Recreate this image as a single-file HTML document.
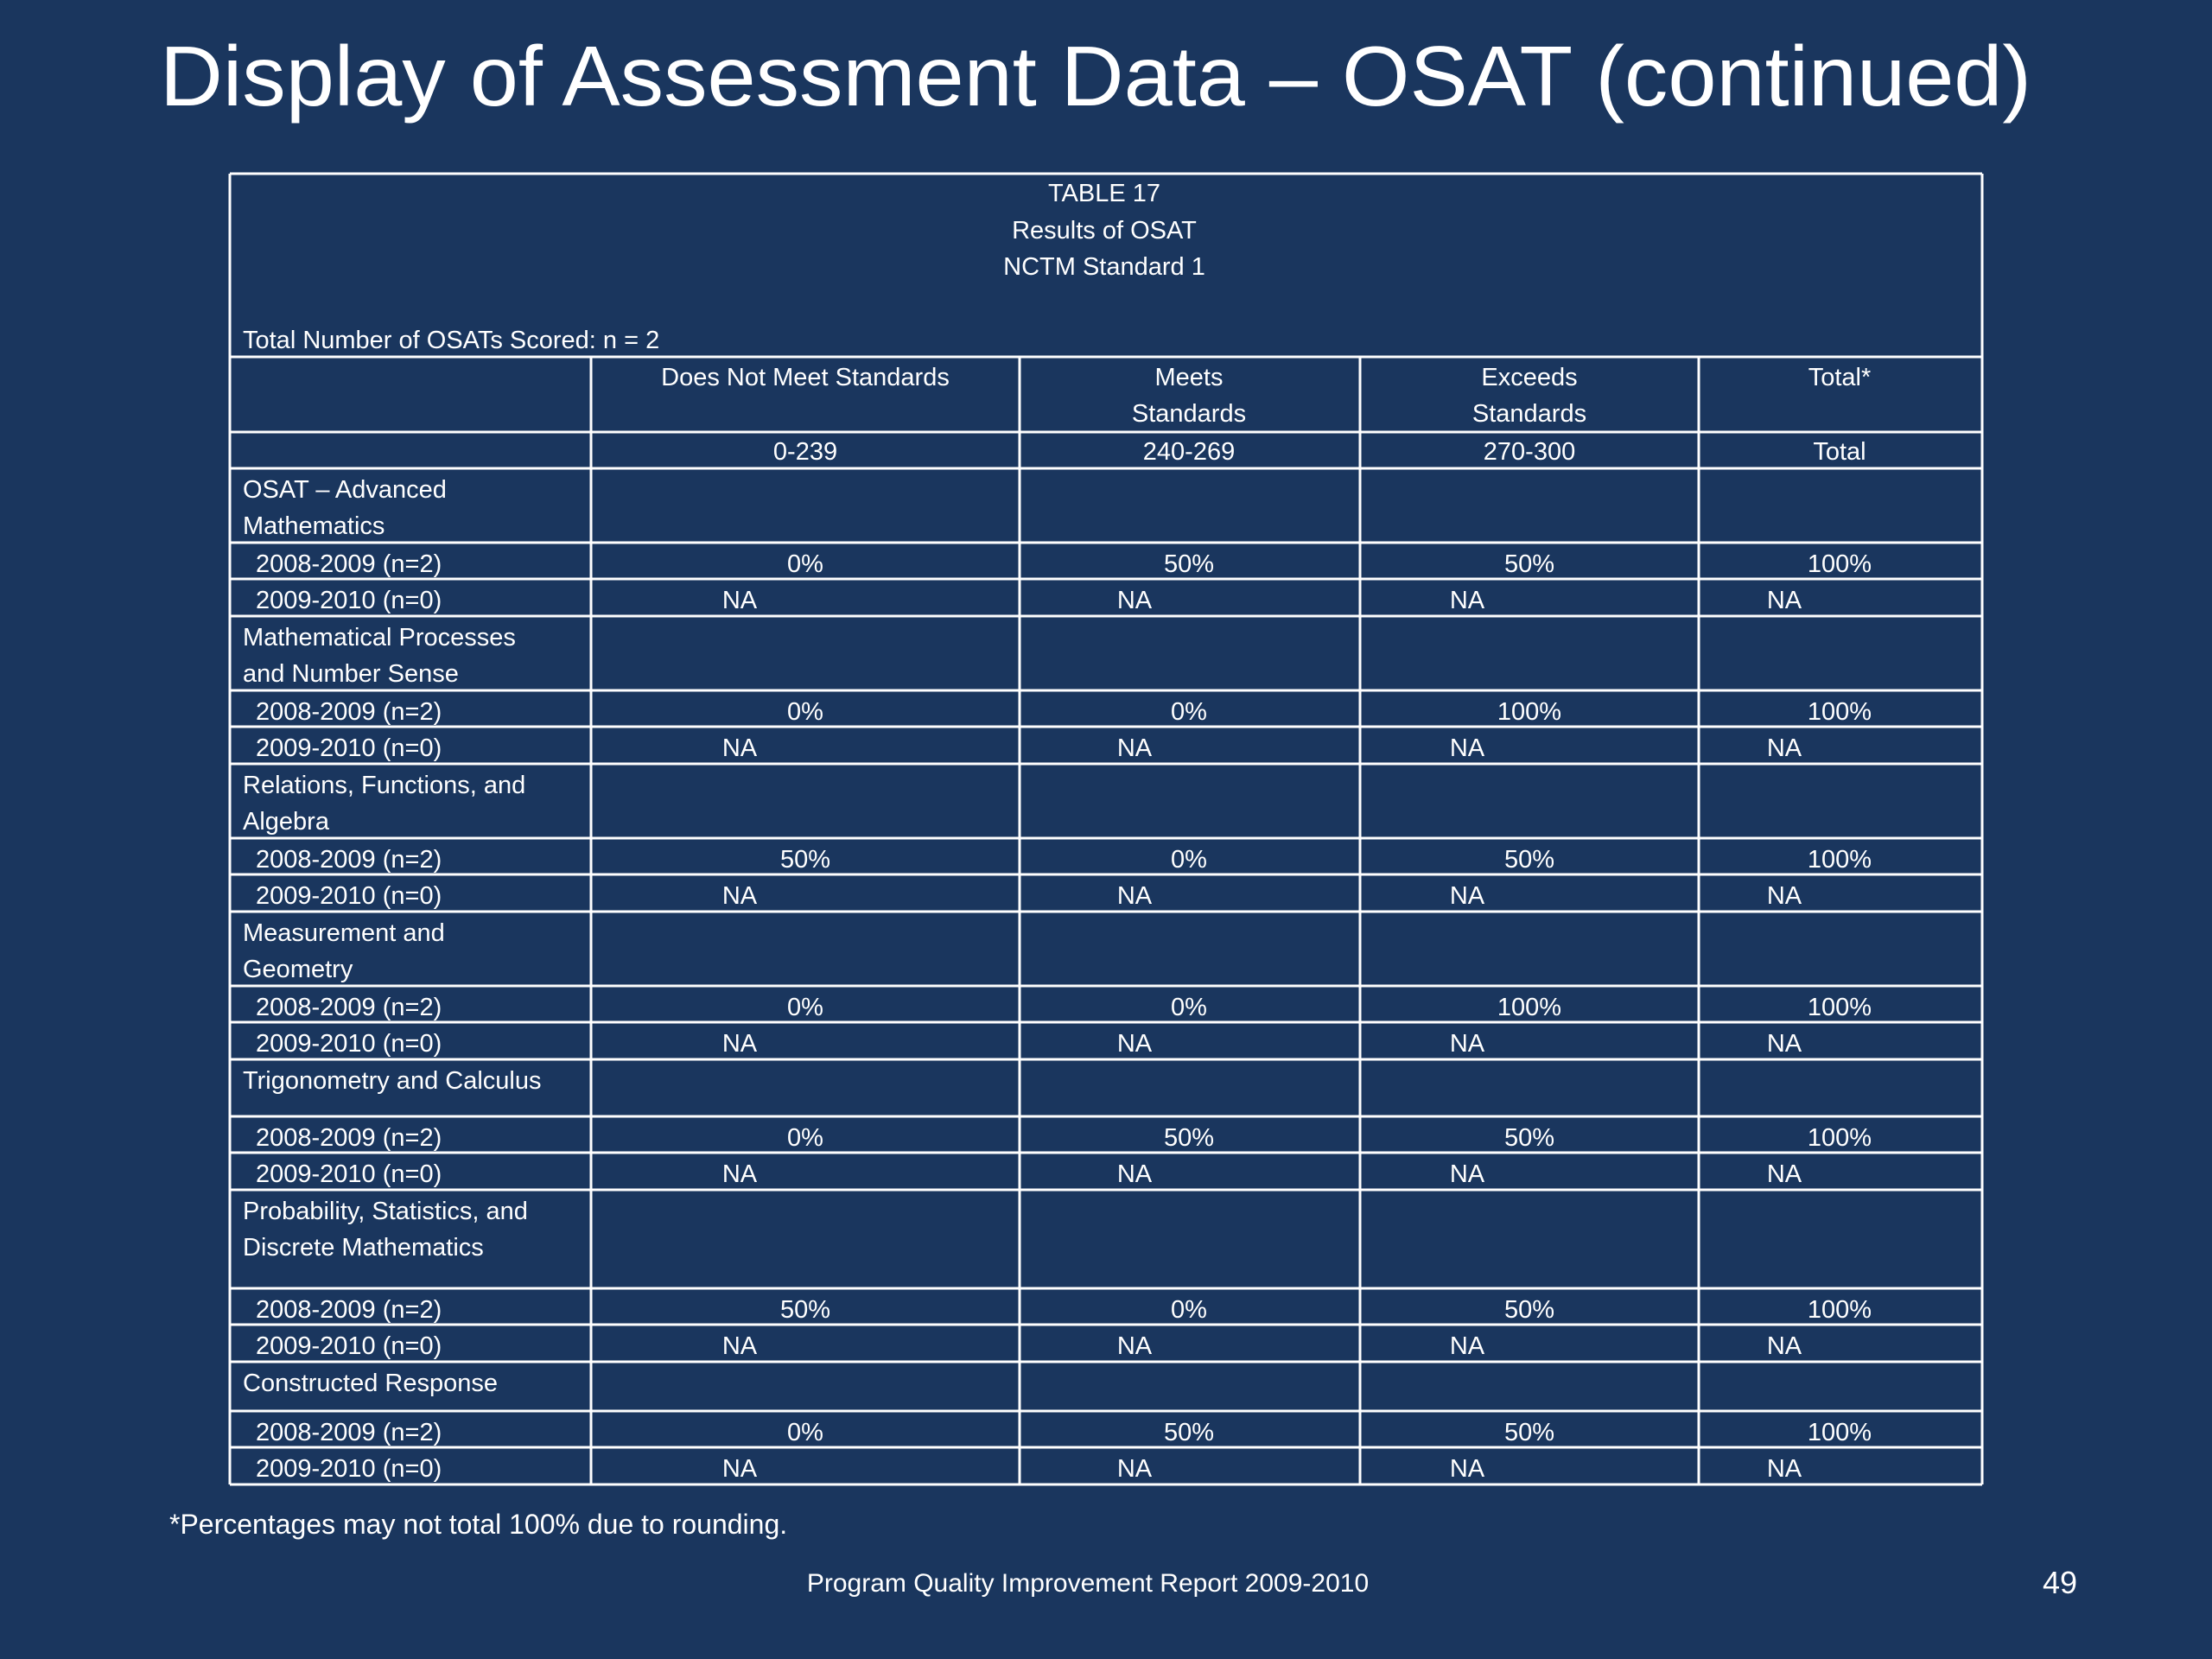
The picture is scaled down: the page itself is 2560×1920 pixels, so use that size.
<!DOCTYPE html>
<html><head><meta charset="utf-8"><style>
html,body{margin:0;padding:0;background:#1a365e;}
svg{display:block;}
text{font-family:"Liberation Sans",sans-serif;fill:#ffffff;}
</style></head><body>
<svg id="slide" width="2560" height="1920" viewBox="0 0 2560 1920" xmlns="http://www.w3.org/2000/svg">
<rect width="2560" height="1920" fill="#1a365e"/>
<text x="185" y="122" font-size="98" textLength="2166" lengthAdjust="spacingAndGlyphs">Display of Assessment Data – OSAT (continued)</text>
<g id="grid" stroke="#ffffff" stroke-width="3" fill="none"></g>
<g id="cells" font-size="29"></g>
<text x="1278" y="233" font-size="29" text-anchor="middle">TABLE 17</text>
<text x="1278" y="276" font-size="29" text-anchor="middle">Results of OSAT</text>
<text x="1278" y="318" font-size="29" text-anchor="middle">NCTM Standard 1</text>
<text x="281" y="403" font-size="29">Total Number of OSATs Scored: n = 2</text>
<text x="196" y="1775" font-size="32">*Percentages may not total 100% due to rounding.</text>
<text x="1259" y="1842" font-size="30" text-anchor="middle">Program Quality Improvement Report 2009-2010</text>
<text x="2384" y="1844" font-size="36" text-anchor="middle">49</text>
</svg>
<script>
const categories = ["OSAT – Advanced|Mathematics","Mathematical Processes|and Number Sense","Relations, Functions, and|Algebra","Measurement and|Geometry","Trigonometry and Calculus","Probability, Statistics, and|Discrete Mathematics","Constructed Response"];
const doesNotMeet = [0,0,50,0,0,50,0];
const meets = [50,0,0,0,50,0,50];
const exceeds = [50,100,50,100,50,50,50];
const totals = [100,100,100,100,100,100,100];
const columnHeaders = ["Does Not Meet Standards","Meets|Standards","Exceeds|Standards","Total*"];
const scoreRanges = ["0-239","240-269","270-300","Total"];
const yearLabels = ["2008-2009 (n=2)","2009-2010 (n=0)"];

const NS="http://www.w3.org/2000/svg";
const grid=document.getElementById('grid'), cells=document.getElementById('cells');
const L=266,R=2294,T=201;
const colX=[L,684,1180,1574,1966,R];
const colCenter=[932,1376,1770,2129];
const naX=[856,1313,1698,2065];
const catH=[86,86,86,86,66,114,57];
function line(x1,y1,x2,y2){const l=document.createElementNS(NS,'line');
l.setAttribute('x1',x1);l.setAttribute('y1',y1);l.setAttribute('x2',x2);l.setAttribute('y2',y2);


grid.appendChild(l);}
function txt(s,x,y,anchor,name){const t=document.createElementNS(NS,'text');
t.setAttribute('x',x);t.setAttribute('y',y);if(anchor)t.setAttribute('text-anchor',anchor);
t.textContent=s;


cells.appendChild(t);}
let rows=[413,500,542];
let y=542;
const rowTops=[];
categories.forEach((c,i)=>{rowTops.push({type:'cat',y:y,i:i});y+=catH[i];rows.push(y);
rowTops.push({type:'y0',y:y,i:i});y+=42;rows.push(y);
rowTops.push({type:'y1',y:y,i:i});y+=43;rows.push(y);});
const B=y;
// outer
line(L,T,R,T);line(L,T,L,B);line(R,T,R,B);
rows.forEach(r=>line(L,r,R,r));
for(let k=1;k<5;k++)line(colX[k],413,colX[k],B);
// header
columnHeaders.forEach((h,k)=>{h.split('|').forEach((p,j)=>txt(p,colCenter[k],446+j*42,'middle','column-header'));});
scoreRanges.forEach((s,k)=>txt(s,colCenter[k],532,'middle','score-range'));
const series=[doesNotMeet,meets,exceeds,totals];
rowTops.forEach(r=>{
 if(r.type==='cat'){categories[r.i].split('|').forEach((p,j)=>txt(p,281,r.y+34+j*42,null,'category-label'));}
 else if(r.type==='y0'){txt(yearLabels[0],296,r.y+34,null,'year-label');
   series.forEach((s,k)=>txt(s[r.i]+'%',colCenter[k],r.y+34,'middle','value-cell'));}
 else {txt(yearLabels[1],296,r.y+34,null,'year-label');
   series.forEach((s,k)=>txt('NA',naX[k],r.y+34,'middle','na-cell'));}
});
</script>
</body></html>
